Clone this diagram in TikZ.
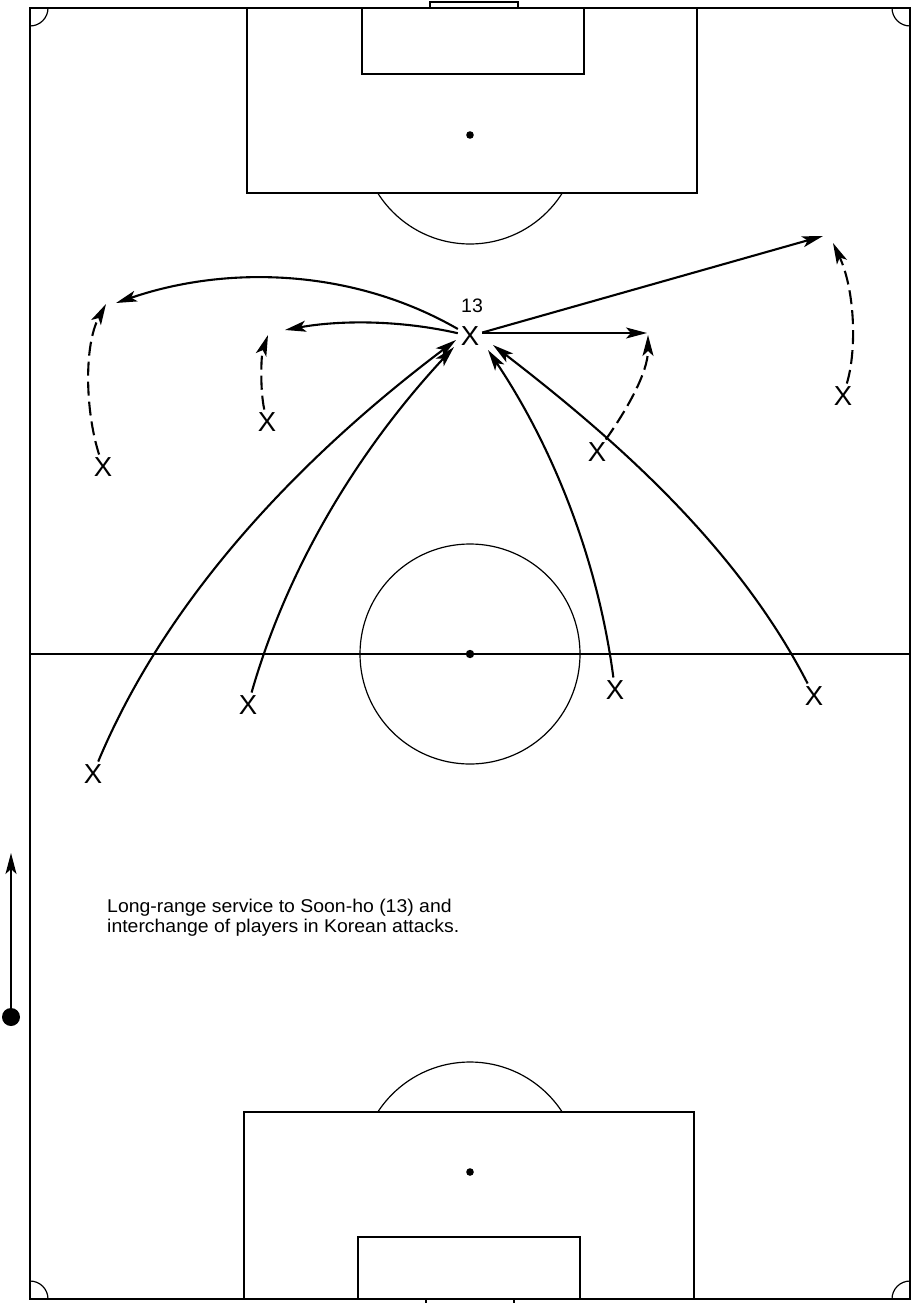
\documentclass[tikz,border=0pt]{standalone}
\usepackage{fontspec}
\setmainfont{Liberation Sans}
\newfontfamily\capfont[FakeStretch=1.05]{Liberation Sans}
\usetikzlibrary{arrows.meta}
\begin{document}
\begin{tikzpicture}[x=1pt,y=-1pt,
  fieldline/.style={line width=1.5pt},
  thinline/.style={line width=1.2pt},
  pass/.style={line width=2.1pt,-{Stealth[length=21pt,width=11pt,inset=5pt]}},
  run/.style={pass,dash pattern=on 14pt off 6pt},
  player/.style={font=\fontsize{27.5}{28}\selectfont,inner sep=0pt,outer sep=3pt},
  spotdot/.style={fill=black}
]
\useasboundingbox (0,0) rectangle (915,1303);

% ---- field ----
\draw[fieldline] (30,8) rectangle (910,1299);
\draw[fieldline] (430,2) rectangle (518,8);
\draw[fieldline] (426,1299) -- (426,1303);
\draw[fieldline] (514,1299) -- (514,1303);
% top
\draw[fieldline] (247,8) rectangle (697,193);
\draw[fieldline] (362,8) rectangle (584,74);
\fill[spotdot] (470,135) circle (3.8);
\begin{scope}
  \clip (240,193) rectangle (700,260);
  \draw[thinline] (470,135) circle (109);
\end{scope}
% bottom
\draw[fieldline] (244,1112) rectangle (694,1299);
\draw[fieldline] (358,1237) rectangle (580,1299);
\fill[spotdot] (470,1172) circle (3.8);
\begin{scope}
  \clip (240,1040) rectangle (700,1112);
  \draw[thinline] (470,1172) circle (110);
\end{scope}
% corners
\begin{scope}
  \clip (30,8) rectangle (60,40);
  \draw[thinline] (30,8) circle (18);
\end{scope}
\begin{scope}
  \clip (880,8) rectangle (910,40);
  \draw[thinline] (910,8) circle (18);
\end{scope}
\begin{scope}
  \clip (30,1270) rectangle (60,1299);
  \draw[thinline] (30,1299) circle (18);
\end{scope}
\begin{scope}
  \clip (880,1270) rectangle (910,1299);
  \draw[thinline] (910,1299) circle (18);
\end{scope}
% halfway
\draw[thinline] (30,654) -- (910,654);
\draw[thinline] (470,654) circle (110);
\fill[spotdot] (470,654) circle (4.2);

% ---- players ----
\node[player] (P13) at (470,336) {X};
\node[font=\fontsize{19.5}{20}\selectfont,inner sep=0pt,anchor=base] (n13) at (472,312) {13};
\node[player] (A) at (103,467) {X};
\node[player] (B) at (267,422) {X};
\node[player] (C) at (597,452) {X};
\node[player] (D) at (843,396) {X};
\node[player] (E) at (93,774) {X};
\node[player] (F) at (248,705) {X};
\node[player] (G) at (615,690) {X};
\node[player] (H) at (814,696) {X};

% free ends
\coordinate (t1) at (116,303);
\coordinate (t2) at (285,330);
\coordinate (t3) at (647,333);
\coordinate (t4) at (823,236);
\coordinate (tA) at (106,304);
\coordinate (tB) at (268,335);
\coordinate (tC) at (648,335);
\coordinate (tD) at (833,243);
\coordinate (tE) at (456,340);
\coordinate (tF) at (454,347);
\coordinate (tG) at (488,350);
\coordinate (tH) at (493,345);

% passes from 13
\draw[pass] (P13) .. controls (352,268) and (226,265) .. (t1);
\draw[pass] (P13) .. controls (400,320) and (340,320) .. (t2);
\draw[pass] (P13.east |- t3) -- (t3);
\draw[pass] (P13) -- (t4);

% runs
\draw[run] (A) .. controls (85,410) and (84,345) .. (tA);
\draw[run] (B) .. controls (260,390) and (261,355) .. (tB);
\draw[run] (C) .. controls (628,408) and (648,372) .. (tC);
\draw[run] (D) .. controls (857,350) and (855,290) .. (tD);

% long-range service to 13
\draw[pass] (E) .. controls (170,590) and (310,450) .. (tE);
\draw[pass] (F) .. controls (289,562) and (362,446) .. (tF);
\draw[pass] (G) .. controls (598,560) and (553,447) .. (tG);
\draw[pass] (H) .. controls (737,546) and (615,439) .. (tH);

% ball
\node[circle,fill=black,inner sep=0pt,minimum size=18pt] (ball) at (11,1017) {};
\coordinate (balltip) at (11,853);
\draw[pass,line width=1.7pt] (ball) -- (balltip);

% caption
\node[anchor=base west,align=left,inner sep=0pt,
      font=\capfont\fontsize{18.5}{20}\selectfont] (cap) at (107,932)
  {Long-range service to Soon-ho (13) and\\interchange of players in Korean attacks.};
\end{tikzpicture}
\end{document}
